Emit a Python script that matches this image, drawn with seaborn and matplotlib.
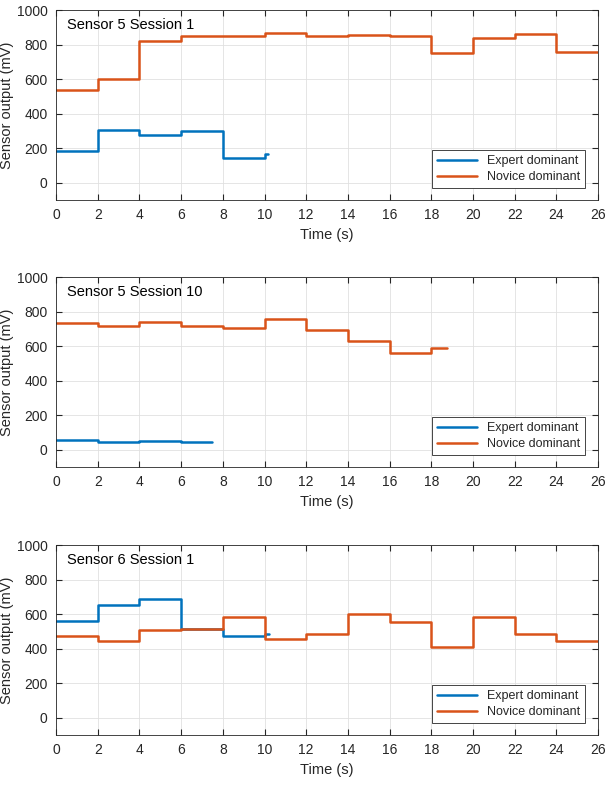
import numpy as np
import seaborn as sns
import matplotlib.pyplot as plt
import pandas as pd

# panel titles
titles = ["Sensor 5 Session 1", "Sensor 5 Session 10", "Sensor 6 Session 1"]

# step data (time of each level start, last point = end of trace)
s5s1_expert_t = [0, 2, 4, 6, 8, 10, 10.15]
s5s1_expert_v = [185, 303, 274, 300, 145, 168, 168]
s5s1_novice_t = [0, 2, 4, 6, 8, 10, 12, 14, 16, 18, 20, 22, 24, 26]
s5s1_novice_v = [537, 599, 821, 850, 848, 870, 848, 856, 848, 750, 840, 862, 756, 756]

s5s10_expert_t = [0, 2, 4, 6, 7.47]
s5s10_expert_v = [55, 47, 50, 45, 45]
s5s10_novice_t = [0, 2, 4, 6, 8, 10, 12, 14, 16, 18, 18.74]
s5s10_novice_v = [735, 718, 740, 715, 708, 760, 693, 633, 563, 588, 588]

s6s1_expert_t = [0, 2, 4, 6, 8, 10, 10.2]
s6s1_expert_v = [561, 652, 690, 517, 473, 488, 488]
s6s1_novice_t = [0, 2, 4, 6, 8, 10, 12, 14, 16, 18, 20, 22, 24, 26]
s6s1_novice_v = [475, 448, 512, 517, 585, 458, 488, 602, 558, 410, 583, 485, 448, 448]

panels = [
    (s5s1_expert_t, s5s1_expert_v, s5s1_novice_t, s5s1_novice_v),
    (s5s10_expert_t, s5s10_expert_v, s5s10_novice_t, s5s10_novice_v),
    (s6s1_expert_t, s6s1_expert_v, s6s1_novice_t, s6s1_novice_v),
]

sns.set_style("whitegrid")
plt.rcParams['font.family'] = ['Liberation Sans', 'DejaVu Sans']

colors = {"Expert dominant": "#0072BD", "Novice dominant": "#D95319"}

fig = plt.figure(figsize=(6.06, 7.9), dpi=100)
left, width = 0.0924, 0.8946
bottoms = [0.747, 0.409, 0.0696]
height = 0.240

for i, (et, ev, nt, nv) in enumerate(panels):
    ax = fig.add_axes([left, bottoms[i], width, height])
    df = pd.concat([
        pd.DataFrame({"Time": et, "Value": ev, "Group": "Expert dominant"}),
        pd.DataFrame({"Time": nt, "Value": nv, "Group": "Novice dominant"}),
    ])
    sns.lineplot(data=df, x="Time", y="Value", hue="Group", palette=colors,
                 estimator=None, drawstyle="steps-post", linewidth=1.8, ax=ax)
    ax.set_xlim(0, 26)
    ax.set_ylim(-100, 1000)
    ax.set_xticks(np.arange(0, 27, 2))
    ax.set_yticks(np.arange(0, 1001, 200))
    ax.set_xlabel("Time (s)", fontsize=10.5, color="#262626", labelpad=4)
    ax.set_ylabel("Sensor output (mV)", fontsize=10.5, color="#262626", labelpad=2)
    ax.tick_params(direction="in", length=4, labelsize=10, colors="#262626",
                   top=True, right=True, bottom=True, left=True, pad=6)
    ax.grid(True, color="#e0e0e0", linewidth=0.6)
    for sp in ax.spines.values():
        sp.set_color("#262626")
        sp.set_linewidth(0.6)
    ax.text(0.02, 0.96, titles[i], transform=ax.transAxes, fontsize=10.5,
            va="top", ha="left", color="black")
    sns.move_legend(ax, "lower right", title=None, fontsize=9, frameon=True,
                    fancybox=False, framealpha=1, edgecolor="#262626",
                    handlelength=3.2, borderaxespad=0.8, labelspacing=0.3,
                    bbox_to_anchor=(0.995, 0.01))
    leg = ax.get_legend()
    leg.get_frame().set_linewidth(0.6)
    for ln in leg.get_lines():
        ln.set_linewidth(1.8)

fig.savefig("out.png", dpi=100)
